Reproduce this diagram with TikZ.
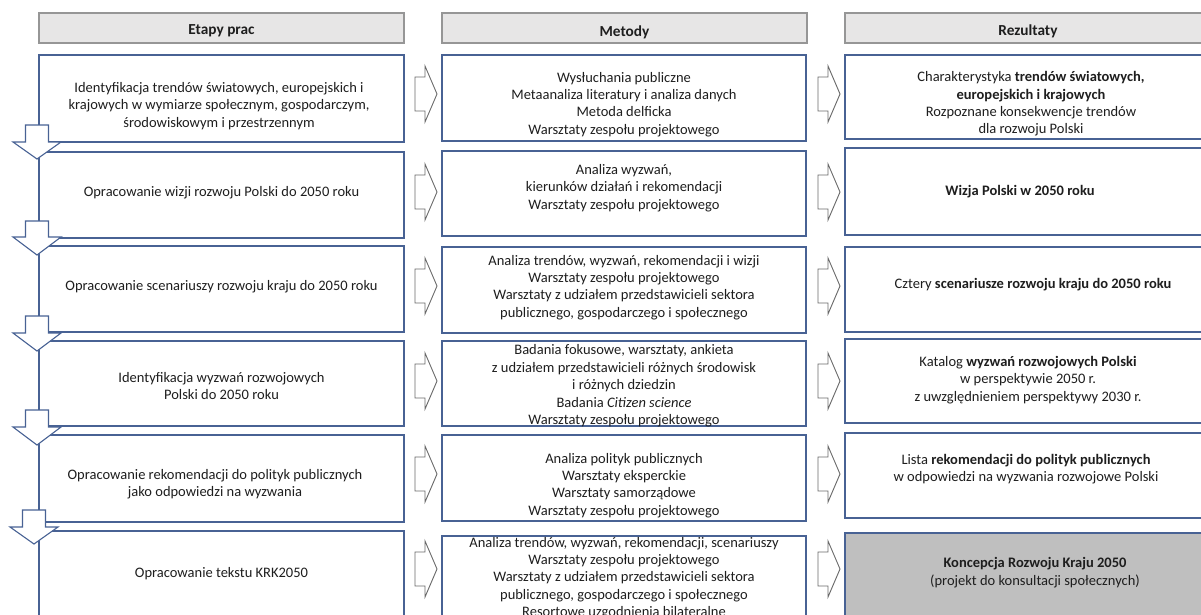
\documentclass[tikz,border=0pt]{standalone}
\usepackage{fontspec}
\setmainfont{Carlito}
\definecolor{boxblue}{RGB}{72,98,148}
\definecolor{hdrfill}{RGB}{231,230,230}
\definecolor{hdrdraw}{RGB}{150,150,150}
\definecolor{arrgray}{RGB}{105,105,105}
\definecolor{txtcol}{RGB}{30,30,30}
\definecolor{grayfill}{RGB}{191,191,191}
\newcommand{\mybox}[6]{\node[#6, anchor=north west, minimum width={(#4)-(#2)}, minimum height={(#5)-(#3)}] (#1) at (#2,#3) {};}
\newcommand{\rightarr}[2]{\draw[rarrow] (#1,#2-17) -- (#1+10,#2-17) -- (#1+10,#2-28) -- (#1+22,#2) -- (#1+10,#2+28) -- (#1+10,#2+17) -- (#1,#2+17) -- cycle;}
\newcommand{\downarr}[4]{\draw[darrow] (#1-11.5,#2) -- (#1+11.5,#2) -- (#1+11.5,#3) -- (#1+24,#3) -- (#1,#4) -- (#1-24,#3) -- (#1-11.5,#3) -- cycle;}
\begin{document}
\begin{tikzpicture}[x=1pt,y=-1pt,
  boxst/.style={draw=boxblue, line width=1.3pt, fill=white, inner sep=0pt, outer sep=0pt},
  graybox/.style={boxst, fill=grayfill},
  hdrst/.style={draw=hdrdraw, line width=1.1pt, fill=hdrfill, inner sep=0pt, outer sep=0pt},
  txt/.style={align=center, text=txtcol, inner sep=0pt, font=\fontsize{14.5}{17.4}\selectfont},
  hdrtxt/.style={txt, font=\fontsize{15.3}{17}\selectfont\bfseries},
  rarrow/.style={draw=arrgray, line width=0.9pt, fill=white, line join=miter},
  darrow/.style={draw=boxblue, line width=1.1pt, fill=white, line join=miter}]
\useasboundingbox (0,0) rectangle (1201,614);
\clip (0,0) rectangle (1201,614);
\fill[white] (0,0) rectangle (1201,614);

% headers
\mybox{HL}{39}{13}{404}{43}{hdrst}
\mybox{HM}{442}{13}{807}{43}{hdrst}
\mybox{HR}{845}{13}{1211}{43}{hdrst}
\node[hdrtxt] (tHL) at (221.5,31) {Etapy prac};
\node[hdrtxt] (tHM) at (624.5,32) {Metody};
\node[hdrtxt] (tHR) at (1028,31) {Rezultaty};

% left column
\mybox{L1}{39}{55}{404}{142}{boxst}
\mybox{L2}{39}{152}{404}{238}{boxst}
\mybox{L3}{39}{246}{404}{332}{boxst}
\mybox{L4}{39}{341}{404}{426}{boxst}
\mybox{L5}{39}{435}{404}{522}{boxst}
\mybox{L6}{39}{531}{404}{630}{boxst}

% middle column
\mybox{M1}{442}{55}{806}{141}{boxst}
\mybox{M2}{442}{151}{806}{236}{boxst}
\mybox{M3}{442}{247}{806}{333}{boxst}
\mybox{M4}{442}{341}{806}{426}{boxst}
\mybox{M5}{442}{435}{806}{521}{boxst}
\mybox{M6}{442}{536}{806}{630}{boxst}

% right column
\mybox{R1}{845}{55}{1211}{139}{boxst}
\mybox{R2}{845}{148}{1211}{235}{boxst}
\mybox{R3}{845}{247}{1211}{332}{boxst}
\mybox{R4}{845}{339}{1211}{423}{boxst}
\mybox{R5}{845}{433}{1211}{518}{boxst}
\mybox{R6}{845}{533}{1211}{640}{graybox}

% texts left
\node[txt] (tL1) at (219,106) {Identyfikacja trendów światowych, europejskich i\\krajowych w wymiarze społecznym, gospodarczym,\\środowiskowym i przestrzennym};
\node[txt] (tL2) at (221.5,193) {Opracowanie wizji rozwoju Polski do 2050 roku};
\node[txt] (tL3) at (221.5,287) {Opracowanie scenariuszy rozwoju kraju do 2050 roku};
\node[txt] (tL4) at (221.5,386) {Identyfikacja wyzwań rozwojowych\\Polski do 2050 roku};
\node[txt] (tL5) at (215,484) {Opracowanie rekomendacji do polityk publicznych\\jako odpowiedzi na wyzwania};
\node[txt] (tL6) at (221.5,574) {Opracowanie tekstu KRK2050};

% texts middle
\node[txt] (tM1) at (624,104.5) {Wysłuchania publiczne\\Metaanaliza literatury i analiza danych\\Metoda delficka\\Warsztaty zespołu projektowego};
\node[txt] (tM2) at (624,188) {Analiza wyzwań,\\kierunków działań i rekomendacji\\Warsztaty zespołu projektowego};
\node[txt] (tM3) at (624,287.5) {Analiza trendów, wyzwań, rekomendacji i wizji\\Warsztaty zespołu projektowego\\Warsztaty z udziałem przedstawicieli sektora\\publicznego, gospodarczego i społecznego};
\node[txt] (tM4) at (624,386) {Badania fokusowe, warsztaty, ankieta\\z udziałem przedstawicieli różnych środowisk\\i różnych dziedzin\\Badania \textit{Citizen science}\\Warsztaty zespołu projektowego};
\node[txt] (tM5) at (624,485.5) {Analiza polityk publicznych\\Warsztaty eksperckie\\Warsztaty samorządowe\\Warsztaty zespołu projektowego};
\node[txt] (tM6) at (624,578) {Analiza trendów, wyzwań, rekomendacji, scenariuszy\\Warsztaty zespołu projektowego\\Warsztaty z udziałem przedstawicieli sektora\\publicznego, gospodarczego i społecznego\\Resortowe uzgodnienia bilateralne};

% texts right
\node[txt] (tR1) at (1031,104) {Charakterystyka \textbf{trendów światowych,}\\\textbf{europejskich i krajowych}\\Rozpoznane konsekwencje trendów\\dla rozwoju Polski};
\node[txt] (tR2) at (1020,192) {\textbf{Wizja Polski w 2050 roku}};
\node[txt] (tR3) at (1033,285) {Cztery \textbf{scenariusze rozwoju kraju do 2050 roku}};
\node[txt] (tR4) at (1028,380) {Katalog \textbf{wyzwań rozwojowych Polski}\\w perspektywie 2050 r.\\z uwzględnieniem perspektywy 2030 r.};
\node[txt] (tR5) at (1026,469) {Lista \textbf{rekomendacji do polityk publicznych}\\w odpowiedzi na wyzwania rozwojowe Polski};
\node[txt] (tR6) at (1035,572.5) {\textbf{Koncepcja Rozwoju Kraju 2050}\\(projekt do konsultacji społecznych)};

% right block arrows
\rightarr{415}{94}
\rightarr{415}{192}
\rightarr{415}{286}
\rightarr{415}{381}
\rightarr{415}{474}
\rightarr{415}{569}
\rightarr{818}{94}
\rightarr{818}{192}
\rightarr{818}{286}
\rightarr{818}{381}
\rightarr{818}{474}
\rightarr{818}{569}

% down block arrows
\downarr{37}{125}{142}{159}
\downarr{37}{221}{237}{255}
\downarr{37}{316}{333}{351}
\downarr{37}{410}{427}{445}
\downarr{34}{510}{527}{544}
\end{tikzpicture}
\end{document}
